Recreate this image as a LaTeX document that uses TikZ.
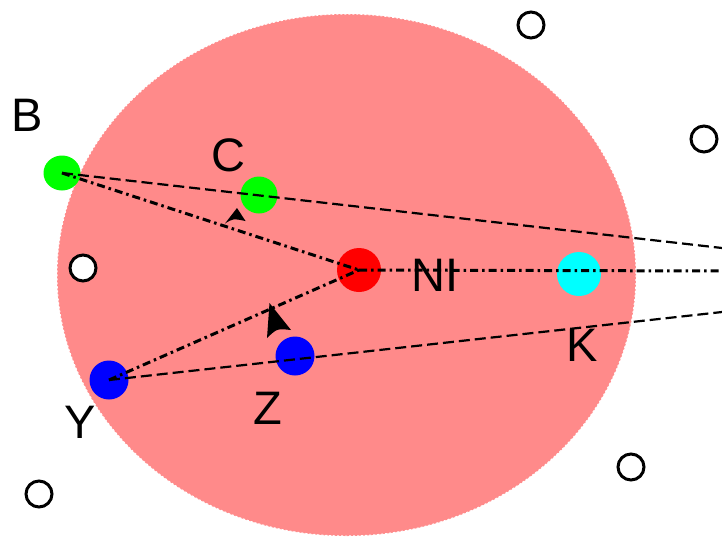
\documentclass[tikz,border=0pt]{standalone}
\usepackage{fontspec}
\setmainfont{Liberation Sans}
\usetikzlibrary{shapes.geometric}
\begin{document}
\begin{tikzpicture}[x=1pt,y=-1pt,
  dot/.style={ellipse,inner sep=0pt,minimum width=#1,minimum height=#1},
  lbl/.style={font=\fontsize{47}{47}\selectfont,inner sep=0pt},
  emptydot/.style={circle,draw=black,fill=white,line width=3pt,inner sep=0pt,minimum size=26pt},
  dashline/.style={line width=2.2pt,dash pattern=on 11pt off 5pt},
  dashdotline/.style={line width=3pt,dash pattern=on 8pt off 4pt on 2.5pt off 4pt},
  pointer/.style={fill=black,line join=miter}]
\useasboundingbox (0,0) rectangle (722,536);
\fill[white] (0,0) rectangle (722,536);
\path[fill={rgb,255:red,255;green,138;blue,138},draw=white,line width=1pt,dash pattern=on 2pt off 2pt]
  (346.5,275) ellipse [x radius=289.5,y radius=261];
% empty dots
\node[emptydot] (o1) at (531,25) {};
\node[emptydot] (o2) at (704,139) {};
\node[emptydot] (o3) at (83,268) {};
\node[emptydot] (o4) at (631,467) {};
\node[emptydot] (o5) at (39,494) {};
% coloured dots
\node[dot=37pt,minimum height=35pt,fill={rgb,255:red,0;green,255;blue,0}] (B) at (62,173) {};
\node[dot=37pt,fill={rgb,255:red,0;green,255;blue,0}] (C) at (259,195) {};
\node[dot=44pt,fill={rgb,255:red,255;green,0;blue,0}] (NI) at (359,270) {};
\node[dot=44pt,fill={rgb,255:red,0;green,255;blue,255}] (K) at (579,274) {};
\node[dot=39pt,fill={rgb,255:red,0;green,0;blue,255}] (Y) at (109,380) {};
\node[dot=39pt,fill={rgb,255:red,0;green,0;blue,255}] (Z) at (295,356) {};
% labels
\node[lbl] (Bl) at (27,115) {B};
\node[lbl] (Cl) at (228,155) {C};
\node[lbl] (NIl) at (435,275) {NI};
\node[lbl] (Kl) at (582,345) {K};
\node[lbl] (Yl) at (80,422) {Y};
\node[lbl] (Zl) at (268,408) {Z};
% free ends
\coordinate (e1) at (722,248);
\coordinate (e2) at (722,271);
\coordinate (e3) at (722,312);
% lines
\draw[dashline] (B.center) -- (e1);
\draw[dashline] (Y.center) -- (e3);
\draw[dashdotline] (B.center) -- (NI.center);
\draw[dashdotline] (Y.center) -- (NI.center);
\draw[dashdotline] (NI.center) -- (e2);
% pointers
\coordinate (ct) at (237,208);
\coordinate (cl) at (225,223.5);
\coordinate (ci) at (233,218.5);
\coordinate (cr) at (245.5,221);
\coordinate (zt) at (269.5,303);
\coordinate (zl) at (267,338);
\coordinate (zi) at (277,328.5);
\coordinate (zr) at (291,330);
\fill[pointer] (ct) -- (cr) .. controls (ci) .. (cl) -- cycle;
\fill[pointer] (zt) -- (zr) .. controls (zi) .. (zl) -- cycle;
\end{tikzpicture}
\end{document}
